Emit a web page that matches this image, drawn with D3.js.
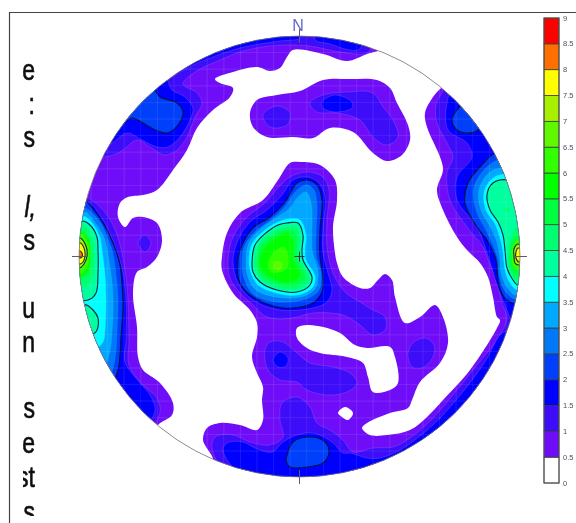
<!DOCTYPE html>
<html>
<head>
<meta charset="utf-8">
<script src="https://cdnjs.cloudflare.com/ajax/libs/d3/7.8.5/d3.min.js"></script>
<style>html,body{margin:0;padding:0;background:#fff;overflow:hidden}svg{display:block}</style>
</head>
<body>
<script>
// Legend classes
const bandBreaks = [0,0.5,1,1.5,2,2.5,3,3.5,4,4.5,5,5.5,6,6.5,7,7.5,8,8.5,9];
const bandColors = ["#ffffff","#7010f8","#3c0cfa","#0000ff","#0040fa","#0078f8","#00a8ff","#00ffff","#00ff9f","#00ff70","#00ff40","#00ff00","#30ff00","#60f800","#a8f000","#ffff00","#ff7000","#ff0000"];
const legendLabels = ["0","0.5","1","1.5","2","2.5","3","3.5","4","4.5","5","5.5","6","6.5","7","7.5","8","8.5","9"];
const marginWords = ["e",":","s","l,","s","u","n","s","e","st","s"];
const compass = ["N"];

// Contours read from the net, one list of rings per density level
const below05 = [
 [[385,48],[367,54],[347,61],[323,54],[293,50],[287,57],[280,68],[270,71],[257,67],[233,72],[215,79],[220,83],[233,88],[230,97],[213,110],[197,128],[187,150],[173,170],[157,190],[143,195],[128,197],[120,203],[118,217],[125,227],[133,218],[143,217],[157,223],[162,240],[157,257],[147,267],[137,272],[133,293],[137,327],[138,357],[143,370],[160,383],[173,403],[172,415],[158,425],[150,440],[175,475],[213,462],[203,440],[207,428],[220,423],[240,425],[257,430],[263,420],[262,400],[263,387],[257,373],[252,357],[257,337],[257,323],[250,310],[233,293],[222,270],[222,257],[227,233],[240,213],[263,200],[278,180],[290,163],[300,162],[320,165],[335,180],[337,200],[333,227],[335,253],[337,263],[343,277],[360,288],[370,288],[378,280],[385,274],[392,280],[395,297],[405,323],[420,317],[435,305],[443,317],[448,343],[440,363],[420,382],[412,400],[408,408],[390,413],[367,423],[362,428],[370,435],[387,435],[410,430],[427,417],[443,400],[470,370],[497,328],[500,320],[497,317],[493,297],[488,277],[480,263],[467,250],[457,237],[443,210],[437,190],[443,170],[440,157],[427,127],[425,113],[433,97],[442,87],[455,75],[425,45],[395,35]]
];
const northIsland = [
 [[250,113],[257,100],[277,95],[300,91],[323,80],[350,79],[377,80],[390,88],[397,103],[408,125],[410,140],[402,155],[387,161],[373,153],[353,132],[330,128],[313,138],[293,137],[267,137],[253,127]]
];
const innerHoles = [
 [[297,328],[307,325],[323,327],[340,333],[355,345],[367,348],[390,347],[395,357],[398,383],[390,390],[373,392],[368,377],[363,363],[347,357],[320,353],[307,348],[297,338]],
 [[338,413],[345,407],[353,413],[348,420],[342,417]]
];
const level10 = [
 [[98,156],[113,155],[123,150],[137,140],[150,147],[165,155],[177,150],[187,137],[195,117],[202,103],[197,93],[183,84],[195,72],[220,60],[240,52],[262,47],[285,45],[310,46],[340,52],[367,53],[372,42],[340,30],[300,28],[260,30],[210,45],[160,70],[120,110]],
 [[263,115],[277,106],[290,113],[287,125],[270,127]],
 [[310,103],[323,95],[347,92],[373,93],[383,107],[393,120],[398,137],[387,145],[373,137],[360,120],[337,113],[317,112]],
 [[138,243],[145,235],[151,243],[145,252]],
 [[87,198],[100,207],[112,223],[120,245],[125,270],[128,300],[129,340],[129,365],[143,385],[157,398],[160,412],[152,425],[130,410],[90,350],[70,260],[75,200]],
 [[443,90],[436,105],[437,123],[447,143],[453,157],[447,173],[450,200],[467,227],[483,247],[490,265],[497,280],[502,303],[507,318],[497,340],[481,360],[461,385],[433,418],[410,438],[393,447],[373,448],[353,452],[343,440],[330,430],[317,423],[310,407],[297,397],[282,403],[280,420],[283,437],[270,445],[250,442],[233,435],[215,437],[212,448],[225,470],[299,490],[400,460],[480,390],[530,300],[530,200],[480,110],[445,80]],
 [[408,353],[413,343],[425,338],[434,345],[433,357],[422,368],[412,367]],
 [[265,350],[270,342],[283,342],[297,353],[310,363],[333,367],[350,373],[357,383],[347,392],[327,395],[307,390],[297,382],[280,380],[268,370]],
 [[228,260],[233,237],[247,217],[265,203],[278,188],[290,177],[307,172],[323,177],[329,190],[327,220],[327,247],[333,273],[345,292],[360,302],[373,310],[385,317],[385,330],[373,335],[360,325],[343,315],[313,313],[297,317],[280,319],[265,316],[253,305],[240,293],[230,278]]
];
const level15 = [
 [[105,145],[112,143],[127,133],[142,140],[157,147],[168,147],[180,137],[190,120],[193,108],[185,97],[172,90],[165,78],[120,100]],
 [[165,78],[200,62],[240,48],[280,41],[300,38],[300,30],[240,30],[170,60]],
 [[315,40],[330,44],[345,49],[358,50],[362,44],[340,35],[318,33]],
 [[322,102],[335,95],[352,102],[352,108],[335,112],[323,108]],
 [[88,202],[103,220],[113,241],[122,268],[126,300],[126,340],[125,362],[140,383],[150,395],[155,410],[148,422],[120,395],[80,340],[70,260],[75,205]],
 [[447,103],[448,130],[467,143],[472,157],[457,177],[457,200],[477,227],[490,262],[497,285],[505,305],[512,318],[535,300],[535,200],[490,110],[452,92]],
 [[504,332],[485,362],[466,388],[440,418],[420,436],[400,450],[380,458],[367,458],[350,453],[343,453],[332,442],[313,433],[297,435],[283,442],[272,452],[255,448],[243,442],[227,443],[223,450],[238,472],[299,490],[400,465],[480,400],[520,340]],
 [[273,360],[280,352],[288,358],[286,366],[278,367]],
 [[233,260],[238,240],[250,222],[267,210],[282,195],[293,180],[307,177],[318,182],[325,197],[323,227],[323,253],[328,273],[332,290],[327,302],[313,308],[280,310],[253,300],[238,283]]
];
const level20 = [
 [[125,122],[132,118],[143,123],[155,130],[167,133],[178,125],[183,112],[177,103],[160,97],[152,88],[130,105]],
 [[85,200],[88,203],[103,223],[113,243],[120,265],[122,285],[123,307],[121,337],[120,355],[118,370],[112,382],[70,300],[70,230]],
 [[452,120],[457,110],[463,105],[480,125],[478,130],[467,133],[457,130]],
 [[497,153],[480,167],[468,183],[465,203],[477,227],[487,240],[496,260],[498,280],[504,297],[516,303],[540,260],[520,170]],
 [[287,455],[293,442],[310,437],[325,442],[329,452],[323,463],[307,467],[290,467],[286,460]],
 [[238,260],[242,245],[253,228],[270,217],[285,202],[297,183],[307,180],[317,185],[322,200],[320,230],[320,257],[323,277],[322,292],[313,303],[283,308],[253,297],[240,283]]
];
const level25 = [
 [[84,208],[100,222],[108,240],[112,250],[116,275],[118,300],[117,330],[116,350],[113,368],[108,378],[70,300],[72,225]],
 [[500,160],[486,168],[474,187],[476,210],[486,230],[493,245],[498,260],[499,274],[505,291],[516,299],[535,230],[520,170]],
 [[242,262],[245,245],[257,230],[272,219],[286,205],[296,191],[307,185],[314,190],[317,205],[316,230],[316,255],[321,273],[319,290],[306,299],[277,302],[253,294],[244,278]]
];
const level30 = [
 [[84,212],[96,224],[104,238],[107,250],[111,275],[113,300],[112,330],[110,350],[105,364],[98,366],[70,300],[72,225]],
 [[504,168],[490,172],[479,190],[481,210],[491,228],[497,242],[500,258],[501,272],[507,287],[517,295],[535,230],[520,172]],
 [[246,262],[249,243],[262,228],[276,218],[290,208],[298,197],[306,192],[311,203],[312,225],[312,250],[318,272],[315,289],[300,297],[276,297],[256,290],[248,277]]
];
const level35 = [
 [[83,216],[93,224],[100,238],[102,250],[105,275],[106,300],[105,330],[103,342],[95,348],[70,300],[72,225]],
 [[507,174],[493,178],[484,192],[486,210],[495,224],[500,238],[503,252],[505,270],[510,283],[518,290],[535,230],[522,178]],
 [[249,262],[252,244],[265,230],[278,222],[288,219],[300,220],[306,235],[305,250],[306,260],[315,276],[313,287],[298,295],[276,293],[258,285],[251,273]]
];
const level40 = [
 [[82,221],[90,225],[97,237],[98,250],[98,273],[96,293],[88,300],[78,298],[72,260],[76,225]],
 [[85,305],[93,310],[98,318],[97,330],[92,334],[80,320]],
 [[508,180],[493,183],[487,195],[490,210],[498,222],[503,235],[505,250],[507,268],[513,280],[518,285],[530,230],[525,190]],
 [[252,263],[255,245],[267,232],[278,225],[287,223],[298,223],[303,235],[302,250],[303,260],[312,277],[310,285],[297,292],[277,290],[260,282],[253,272]]
];
const level45 = [
 [[81,225],[88,229],[93,240],[94,255],[94,272],[89,285],[80,288],[73,260]],
 [[504,209],[507,208],[510,210],[507,212]],
 [[516,228],[510,240],[508,255],[510,272],[516,281],[530,255]],
 [[255,263],[257,247],[269,234],[285,227],[296,227],[300,238],[299,252],[301,262],[310,277],[308,283],[295,289],[278,288],[262,280],[256,271]]
];
const level50 = [
 [[82,230],[90,240],[91,255],[90,272],[80,280],[73,255]],
 [[517,235],[511,243],[510,256],[511,270],[517,276],[530,255]],
 [[257,263],[260,248],[272,236],[287,230],[295,232],[297,246],[297,260],[305,277],[295,286],[279,284],[264,277],[258,270]]
];
const level55 = [
 [[81,232],[89,242],[90,255],[88,270],[80,277],[73,255]],
 [[260,263],[264,249],[276,238],[288,233],[293,243],[293,260],[300,275],[291,282],[276,280],[265,273]]
];
const level60 = [
 [[81,234],[88,243],[89,256],[87,268],[79,274],[73,255]],
 [[517,240],[513,247],[512,256],[513,266],[518,270],[530,255]],
 [[268,265],[274,252],[284,247],[288,255],[287,268],[280,272],[272,272]]
];
const level65 = [
 [[275,262],[280,262],[282,267],[278,270],[274,267]]
];
const level70 = [
 [[80,238],[86,246],[87,256],[84,264],[79,268],[73,255]],
 [[518,244],[514,249],[514,256],[515,263],[519,265],[530,255]]
];
const level75 = [
 [[80,243],[84,248],[85,256],[83,262],[79,264],[73,255]],
 [[518,248],[516,252],[516,258],[519,262],[530,255]]
];
const level80 = [
 [[80,251],[82,253],[82,257],[80,258],[74,255]]
];

const contourLevels = [
 {v:1,   rings:level10},{v:1.5, rings:level15},{v:2,   rings:level20},{v:2.5, rings:level25},
 {v:3,   rings:level30},{v:3.5, rings:level35},{v:4,   rings:level40},{v:4.5, rings:level45},
 {v:5,   rings:level50},{v:5.5, rings:level55},{v:6,   rings:level60},{v:6.5, rings:level65},
 {v:7,   rings:level70},{v:7.5, rings:level75},{v:8,   rings:level80}
];
const lightLine = new Set([1,1.5,2.5,3,3.5,4.5,5,5.5,6,6.5]);

const W = 576, H = 523;
const svg = d3.select("body").append("svg").attr("width",W).attr("height",H);
const defs = svg.append("defs");
defs.append("filter").attr("id","soft").attr("x","-5%").attr("y","-5%").attr("width","110%").attr("height","110%")
  .append("feGaussianBlur").attr("stdDeviation",0.45);
defs.append("filter").attr("id","softer").append("feGaussianBlur").attr("stdDeviation",0.35);

// Frame
const frame = svg.append("g");
frame.append("path").attr("d",`M${W},12.5H9.5V${H}`).attr("fill","none").attr("stroke","#444").attr("stroke-width",1.2);

// Net scales
const x = d3.scaleLinear().domain([79,520]).range([79,520]);
const y = d3.scaleLinear().domain([36,477]).range([36,477]);
const cx = x(299.5), cy = y(256.5), R = x(520)-x(299.5);
const ringPath = d3.line().x(d=>x(d[0])).y(d=>y(d[1])).curve(d3.curveCatmullRomClosed.alpha(0.5));
const colorOf = d3.scaleThreshold().domain(bandBreaks.slice(1,-1)).range(bandColors);

defs.append("clipPath").attr("id","disk").append("circle").attr("cx",cx).attr("cy",cy).attr("r",R);
const net = svg.append("g").attr("filter","url(#soft)");
const inside = net.append("g").attr("clip-path","url(#disk)");
inside.append("circle").attr("cx",cx).attr("cy",cy).attr("r",R).attr("fill",colorOf(0.5));
inside.selectAll(".low").data(below05).join("path").attr("d",ringPath).attr("fill","#fff");
inside.selectAll(".island").data(northIsland).join("path").attr("d",ringPath).attr("fill",colorOf(0.5));
inside.selectAll(".hole").data(innerHoles).join("path").attr("d",ringPath).attr("fill","#fff");

contourLevels.forEach(l=>{
  const col = colorOf(l.v);
  inside.append("g").selectAll("path").data(l.rings).join("path")
    .attr("d",ringPath)
    .attr("fill",col)
    .attr("stroke", l.v<=1.5 ? "#a060ff" : lightLine.has(l.v) ? d3.color(col).brighter(0.6).formatHex() : "#04123a")
    .attr("stroke-opacity", l.v<=1.5 ? 0.45 : lightLine.has(l.v) ? 0.5 : 0.9)
    .attr("stroke-width", lightLine.has(l.v) ? 0.8 : 1.1);
});

// Faint net graticule
const gridStops = d3.range(91,520,16.6);
inside.append("g").selectAll("line").data(gridStops).join("line")
  .attr("x1",d=>x(d)).attr("x2",d=>x(d)).attr("y1",y(36)).attr("y2",y(477))
  .attr("stroke","#fff").attr("stroke-opacity",0.09);
inside.append("g").selectAll("line").data(gridStops).join("line")
  .attr("y1",d=>y(d-55)).attr("y2",d=>y(d-55)).attr("x1",x(79)).attr("x2",x(520))
  .attr("stroke","#fff").attr("stroke-opacity",0.09);

// Rim, ticks and centre cross
net.append("circle").attr("cx",cx).attr("cy",cy).attr("r",R).attr("fill","none").attr("stroke","#777").attr("stroke-width",0.8);
const tickLen = 7, crossLen = 5;
net.append("g").attr("stroke","#5a5f70").attr("stroke-width",1).selectAll("line")
 .data([[0,-1],[1,0],[0,1],[-1,0]]).join("line")
 .attr("x1",d=>cx+d[0]*(R-7)).attr("y1",d=>cy+d[1]*(R-7))
 .attr("x2",d=>cx+d[0]*(R+tickLen)).attr("y2",d=>cy+d[1]*(R+tickLen));
net.append("g").attr("stroke","#334").attr("stroke-width",1).selectAll("line")
 .data([[1,0],[0,1]]).join("line")
 .attr("x1",d=>cx-d[0]*crossLen).attr("y1",d=>cy-d[1]*crossLen)
 .attr("x2",d=>cx+d[0]*crossLen).attr("y2",d=>cy+d[1]*crossLen);
net.append("text").text(compass[0]).attr("x",cx-1.5).attr("y",y(30.5)).attr("text-anchor","middle")
 .attr("font-family","'Liberation Sans',Arial,sans-serif").attr("font-size",16).attr("fill","#6468cc");

// Legend
const legendY = d3.scaleLinear().domain([0,9]).range([483,18]);
const legend = svg.append("g").attr("filter","url(#softer)");
const lx = 544, lw = 15;
legend.selectAll("rect.b").data(bandColors).join("rect")
 .attr("x",lx).attr("width",lw)
 .attr("y",(d,i)=>legendY(bandBreaks[i+1]))
 .attr("height",(d,i)=>legendY(bandBreaks[i])-legendY(bandBreaks[i+1]))
 .attr("fill",d=>d).attr("stroke","#3a4030").attr("stroke-width",0.8);
legend.append("rect").attr("x",lx).attr("y",legendY(9)).attr("width",lw).attr("height",legendY(0)-legendY(9))
 .attr("fill","none").attr("stroke","#555").attr("stroke-width",1);
legend.selectAll("text").data(legendLabels).join("text")
 .attr("x",563).attr("y",d=>legendY(+d)+2.5).text(d=>d)
 .attr("font-family","'Liberation Sans',Arial,sans-serif").attr("font-size",7.5).attr("fill","#4a5060");

// Clipped fragments of the neighbouring page text
const marginBase = [80,114,147,217,250,318,352,418,453,487,522];
defs.append("clipPath").attr("id","margin").append("rect").attr("x",23).attr("y",14).attr("width",20).attr("height",502);
svg.append("g").attr("clip-path","url(#margin)")
 .append("g").attr("filter","url(#softer)")
 .selectAll("text").data(marginWords).join("text")
 .attr("transform",(d,i)=>`translate(${d==="l,"?36:35},${marginBase[i]}) scale(0.72,0.95)`)
 .attr("text-anchor","end")
 .attr("font-family","'Liberation Sans',Arial,sans-serif").attr("font-size",32)
 .attr("font-style",d=>d==="l,"?"italic":"normal")
 .attr("fill","#111").attr("stroke","#111").attr("stroke-width",0.7).text(d=>d);
</script>
</body>
</html>
